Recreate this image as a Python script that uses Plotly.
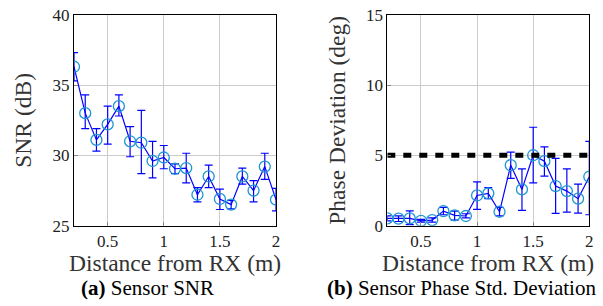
import plotly.graph_objects as go

# ---- data ----
distance = [0.2, 0.3, 0.4, 0.5, 0.6, 0.7, 0.8, 0.9, 1.0, 1.1, 1.2, 1.3, 1.4, 1.5, 1.6, 1.7, 1.8, 1.9, 2.0]
snr = [36.3, 33.0, 31.1, 32.2, 33.5, 31.0, 30.9, 29.6, 29.85, 29.05, 29.1, 27.2, 28.5, 26.9, 26.5, 28.5, 27.5, 29.2, 26.85]
snr_hi = [37.3, 34.3, 31.9, 33.5, 34.3, 32.05, 33.2, 31.0, 30.7, 29.4, 30.15, 27.7, 29.3, 27.6, 26.8, 29.1, 28.2, 30.15, 27.65]
snr_lo = [35.3, 31.9, 30.3, 30.8, 32.8, 29.9, 28.7, 28.4, 29.05, 28.7, 28.05, 26.7, 27.7, 26.15, 26.2, 27.95, 26.7, 28.3, 26.05]

phase = [0.52, 0.5, 0.52, 0.35, 0.4, 1.04, 0.73, 0.69, 2.15, 2.3, 0.99, 4.3, 2.58, 5.01, 4.59, 2.82, 2.46, 1.92, 3.48]
phase_hi = [0.7, 0.7, 1.06, 0.45, 0.55, 1.3, 1.04, 0.85, 3.12, 2.7, 1.3, 5.23, 4.04, 7.0, 5.6, 4.78, 4.04, 2.96, 6.0]
phase_lo = [0.35, 0.3, 0.07, 0.25, 0.25, 0.78, 0.4, 0.55, 1.16, 1.92, 0.7, 3.36, 1.09, 3.05, 3.52, 0.88, 0.97, 0.9, 0.78]

threshold = 5
x_range = [0.2, 2.0]
x_ticks = [0.5, 1, 1.5, 2]
x_ticktext = ["0.5", "1", "1.5", "2"]
snr_ticks = [25, 30, 35, 40]
phase_ticks = [0, 5, 10, 15]

x_title = "Distance from RX (m)"
y_titles = ["SNR (dB)", "Phase Deviation (deg)"]
captions = ["<b>(a)</b> Sensor SNR", "<b>(b)</b> Sensor Phase Std. Deviation"]

FONT = "Liberation Serif"
LINE = "#0000ff"
MARK = "#1e96d2"

W, H = 603, 306


def px(xp):
    return xp / W


def py(yp):
    return 1 - yp / H


fig = go.Figure()


def add_series(y, hi, lo, xa, ya):
    fig.add_trace(go.Scatter(
        x=distance, y=y, xaxis=xa, yaxis=ya, mode="lines+markers",
        line=dict(color=LINE, width=1.2),
        marker=dict(symbol="circle-open", size=11, color=MARK, line=dict(width=1.3, color=MARK)),
        error_y=dict(type="data", symmetric=False,
                     array=[h - v for h, v in zip(hi, y)],
                     arrayminus=[v - l for v, l in zip(y, lo)],
                     color=LINE, thickness=1.2, width=4),
        showlegend=False, cliponaxis=True,
    ))


add_series(snr, snr_hi, snr_lo, "x", "y")
add_series(phase, phase_hi, phase_lo, "x2", "y2")

fig.add_trace(go.Scatter(
    x=x_range, y=[threshold, threshold], xaxis="x2", yaxis="y2", mode="lines",
    line=dict(color="black", width=5, dash="8px,8px"), showlegend=False,
))

axis_common = dict(
    showline=True, linecolor="black", linewidth=1, mirror=True,
    showgrid=True, gridcolor="#cccccc", gridwidth=1,
    ticks="inside", ticklen=4, tickcolor="#888888",
    tickfont=dict(family=FONT, size=17, color="#222222"),
    ticklabeloverflow="allow",
    zeroline=False, automargin=False,
)
x_common = dict(axis_common, range=x_range, tickvals=x_ticks, ticktext=x_ticktext)

plot_top, plot_bot = 14.7, 225.7
left_x = (74, 276)
right_x = (387.3, 589.3)
ydom = [py(plot_bot), py(plot_top)]

title_font = dict(family=FONT, size=23.5, color="#333333")
cap_font = dict(family=FONT, size=21, color="black")

fig.update_layout(
    width=W, height=H,
    margin=dict(l=0, r=0, t=0, b=0),
    paper_bgcolor="white", plot_bgcolor="white",
    font=dict(family=FONT),
    hovermode=False,
    xaxis=dict(x_common, domain=[px(left_x[0]), px(left_x[1])], anchor="y"),
    yaxis=dict(axis_common, domain=ydom, range=[25, 40], tickvals=snr_ticks, anchor="x"),
    xaxis2=dict(x_common, domain=[px(right_x[0]), px(right_x[1])], anchor="y2"),
    yaxis2=dict(axis_common, domain=ydom, range=[0, 15], tickvals=phase_ticks, anchor="x2"),
    annotations=[
        dict(text=x_title, x=px(sum(left_x) / 2), y=py(263), xref="paper", yref="paper",
             xanchor="center", yanchor="middle", showarrow=False, font=title_font),
        dict(text=x_title, x=px(sum(right_x) / 2), y=py(263), xref="paper", yref="paper",
             xanchor="center", yanchor="middle", showarrow=False, font=title_font),
        dict(text=y_titles[0], x=px(23.5), y=py((plot_top + plot_bot) / 2), xref="paper", yref="paper",
             xanchor="center", yanchor="middle", textangle=-90, showarrow=False, font=title_font),
        dict(text=y_titles[1], x=px(337.5), y=py((plot_top + plot_bot) / 2), xref="paper", yref="paper",
             xanchor="center", yanchor="middle", textangle=-90, showarrow=False, font=title_font),
        dict(text=captions[0], x=px(147.5), y=py(288), xref="paper", yref="paper",
             xanchor="center", yanchor="middle", showarrow=False, font=cap_font),
        dict(text=captions[1], x=px(461), y=py(288), xref="paper", yref="paper",
             xanchor="center", yanchor="middle", showarrow=False, font=cap_font),
    ],
)

# remove the default 8px page margin so the figure sits at the window's top-left corner
fig.write_html("out.html", config={"displayModeBar": False},
               post_script="document.body.style.margin='0';")
